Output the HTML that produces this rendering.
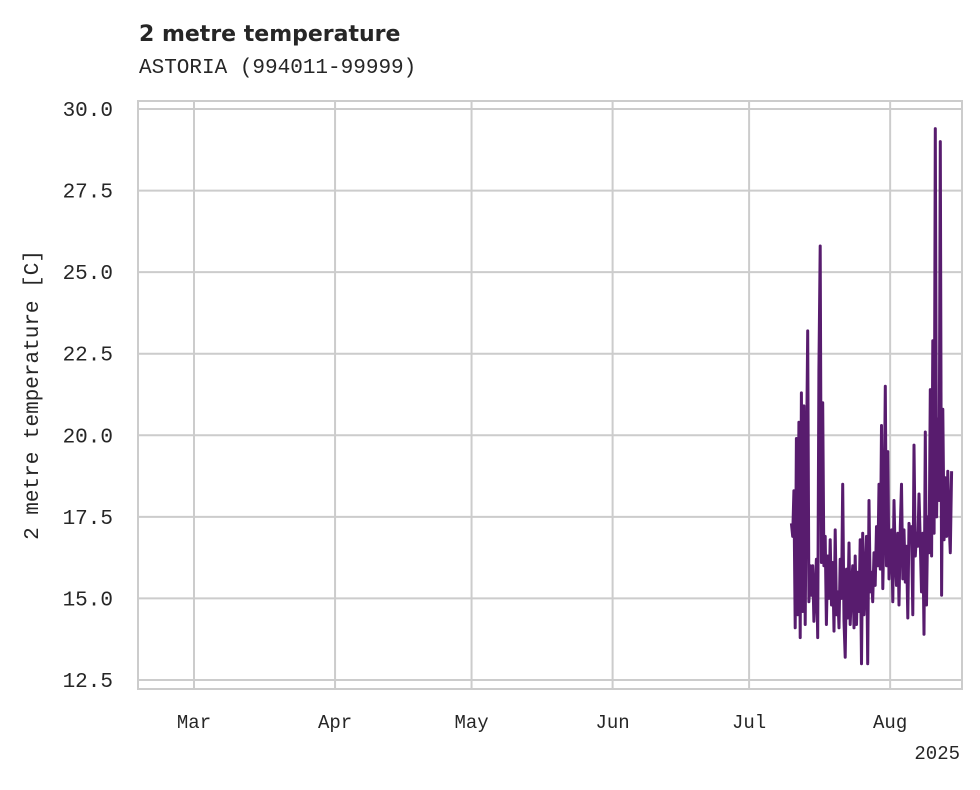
<!DOCTYPE html>
<html><head><meta charset="utf-8"><style>
body{margin:0;background:#fff;}
svg text{font-family:"Liberation Mono",monospace;fill:#262626;}
</style></head><body>
<svg id="chart" width="980" height="785" xmlns="http://www.w3.org/2000/svg">
<text x="139" y="41" style="font-family:'DejaVu Sans','Liberation Sans',sans-serif;font-weight:bold;font-size:22px;">2 metre temperature</text>
<text x="139" y="73" font-size="21">ASTORIA (994011-99999)</text>
<rect x="138" y="101" width="824" height="588" fill="#fff" stroke="#cccccc" stroke-width="2"/>
<g id="grid"></g><g id="ticks"></g>
<text transform="translate(38,395) rotate(-90)" text-anchor="middle" font-size="21">2 metre temperature [C]</text>
<text x="960" y="759" text-anchor="end" font-size="19">2025</text>
<path id="series" fill="none" stroke="#581c6e" stroke-width="3" stroke-linejoin="round"/>
</svg>
<script>
const yTicks=[12.5,15.0,17.5,20.0,22.5,25.0,27.5,30.0];
const monthLabels=["Mar","Apr","May","Jun","Jul","Aug"];
const monthDays=[0,31,61,92,122,153]; // days since Mar 1
const startDay=131.3; // Jul 10 ~08:00
const stepHours=6.6;
const temps=[17.3,16.9,18.3,14.1,19.9,14.5,20.4,13.8,21.3,14.6,20.9,14.2,19.0,23.2,14.9,16.0,15.1,16.0,14.3,15.2,16.2,13.8,22.0,25.8,16.1,21.0,16.0,16.9,14.2,16.3,15.0,16.8,14.8,16.1,14.0,17.1,14.5,15.2,14.1,16.2,15.0,18.5,14.3,13.2,15.9,14.4,16.7,14.2,15.3,16.0,14.1,16.3,14.2,15.8,14.6,16.8,13.0,17.0,14.5,15.6,16.9,13.0,18.0,15.2,15.8,14.9,16.4,15.4,17.2,16.0,18.5,15.9,20.3,15.3,17.3,21.5,16.0,19.5,15.6,16.4,17.1,14.9,18.0,16.2,15.4,17.0,14.8,17.2,18.5,15.6,17.1,15.5,16.6,14.4,17.3,16.9,17.2,14.5,19.7,16.3,17.0,16.6,18.2,16.7,15.2,17.0,13.9,20.1,14.8,17.5,16.4,21.4,16.3,22.9,17.0,29.4,17.5,20.5,18.0,29.0,15.1,20.8,16.8,18.7,16.9,18.9,17.3,16.4,18.9];
const NS="http://www.w3.org/2000/svg";
const X0=138,X1=962,Y0=101,Y1=689;
function xScale(d){return 194+d*4.55;}
function yScale(v){return 680-(v-12.5)*(571/17.5);}
const grid=document.getElementById('grid'),ticks=document.getElementById('ticks');
function mk(tag,attrs,parent){const e=document.createElementNS(NS,tag);for(const k in attrs)e.setAttribute(k,attrs[k]);parent.appendChild(e);return e;}
yTicks.forEach(v=>{
 const y=yScale(v);
 const l=mk('line',{x1:X0,x2:X1,y1:y,y2:y,stroke:'#cccccc','stroke-width':2},grid);
 
 
 const t=mk('text',{x:113,y:y+7,'text-anchor':'end','font-size':21},ticks);
 
 
 t.textContent=v.toFixed(1);
});
monthLabels.forEach((m,i)=>{
 const x=xScale(monthDays[i]);
 const l=mk('line',{x1:x,x2:x,y1:Y0,y2:Y1,stroke:'#cccccc','stroke-width':2},grid);
 
 
 const t=mk('text',{x:x,y:728,'text-anchor':'middle','font-size':19},ticks);
 
 
 t.textContent=m;
});
let d='';
temps.forEach((v,i)=>{const x=xScale(startDay+i*stepHours/24);d+=(i?'L':'M')+x.toFixed(1)+','+yScale(v).toFixed(1);});
document.getElementById('series').setAttribute('d',d);
</script>
</body></html>
